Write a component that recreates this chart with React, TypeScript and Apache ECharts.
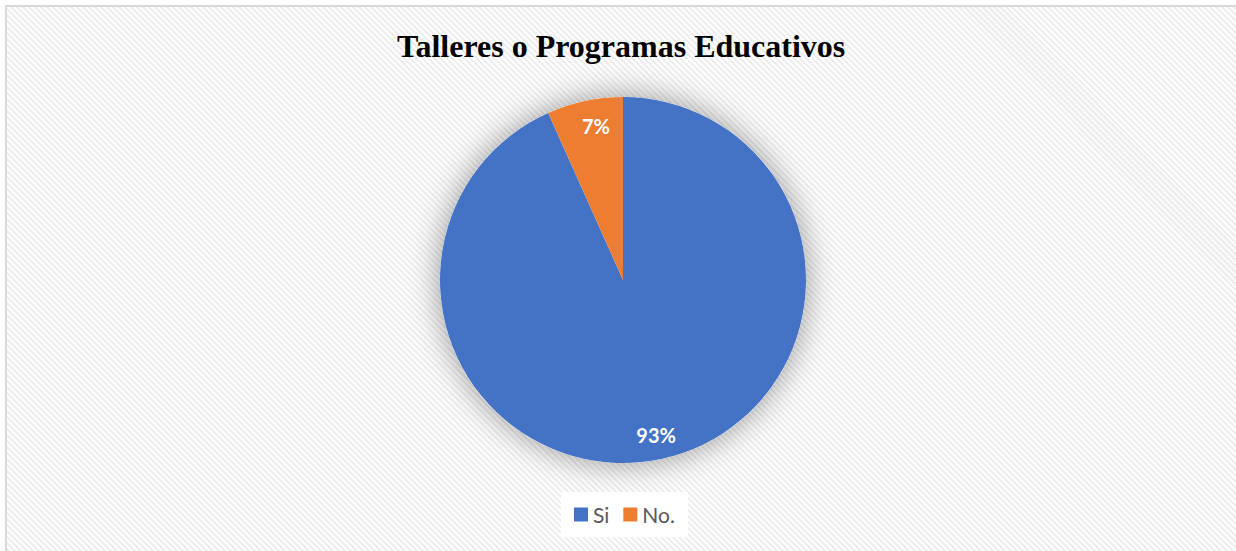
import React, { useEffect, useRef } from "react";
import * as echarts from "echarts";

const titleText = "Talleres o Programas Educativos";
const categories = ["Si", "No."];
const values = [93.3, 6.7];
const colors = ["#4472C4", "#ED7D31"];

export default function App() {
  const ref = useRef<HTMLDivElement>(null);

  useEffect(() => {
    if (!ref.current) return;
    const chart = echarts.init(ref.current, undefined, { renderer: "svg" });
    const total = values.reduce((a, b) => a + b, 0);
    const data = categories.map((name, i) => ({
      name,
      value: values[i],
      itemStyle: { color: colors[i] },
    }));
    chart.setOption({
      animation: false,
      backgroundColor: "transparent",
      title: {
        text: titleText,
        left: 392,
        top: 25,
        textStyle: {
          fontFamily: "Liberation Serif",
          fontWeight: "bold",
          fontSize: 32,
          color: "#000000",
        },
      },
      legend: {
        data: categories,
        bottom: 14,
        left: 561,
        backgroundColor: "#ffffff",
        padding: [12, 13],
        itemWidth: 14,
        itemHeight: 14,
        itemGap: 14,
        icon: "rect",
        textStyle: {
          fontFamily: "Lato",
          fontSize: 21,
          color: "#595959",
        },
      },
      series: [
        {
          type: "pie",
          center: [623, 280],
          radius: [0, 183],
          silent: true,
          label: { show: false },
          labelLine: { show: false },
          itemStyle: {
            color: "#ffffff",
            shadowBlur: 32,
            shadowColor: "rgba(0,0,0,0.4)",
          },
          data: [{ name: "__bg", value: total }],
        },
        {
          type: "pie",
          center: [623, 280],
          radius: [0, 183],
          startAngle: 90,
          clockwise: true,
          label: { show: false },
          labelLine: { show: false },
          itemStyle: { borderWidth: 0 },
          data,
        },
        {
          type: "pie",
          center: [623, 280],
          radius: [128, 183],
          startAngle: 90,
          clockwise: true,
          silent: true,
          itemStyle: { color: "transparent", borderWidth: 0 },
          label: {
            show: true,
            position: "inside",
            formatter: (p: any) => `${Math.round(p.value)}%`,
            fontFamily: "Lato",
            fontWeight: "bold",
            fontSize: 20,
            color: "#ffffff",
          },
          labelLine: { show: false },
          data: categories.map((name, i) => ({
            name,
            value: values[i],
            label: i === 1 ? { offset: [6, 1] } : undefined,
          })),
        },
      ],
    });
    return () => chart.dispose();
  }, []);

  return (
    <div
      style={{
        position: "fixed",
        left: 0,
        top: 0,
        width: 1236,
        height: 551,
        overflow: "hidden",
        background: "#ffffff",
      }}
    >
      <div
        style={{
          position: "absolute",
          left: 5,
          top: 5,
          width: 1300,
          height: 600,
          border: "2px solid #d9d9d9",
          background:
            "repeating-linear-gradient(45deg, #ffffff 0px, #ffffff 2.1px, #eeeeee 2.1px, #eeeeee 4.24px)",
        }}
      />
      <div
        ref={ref}
        style={{ position: "absolute", left: 0, top: 0, width: 1236, height: 551 }}
      />
    </div>
  );
}
